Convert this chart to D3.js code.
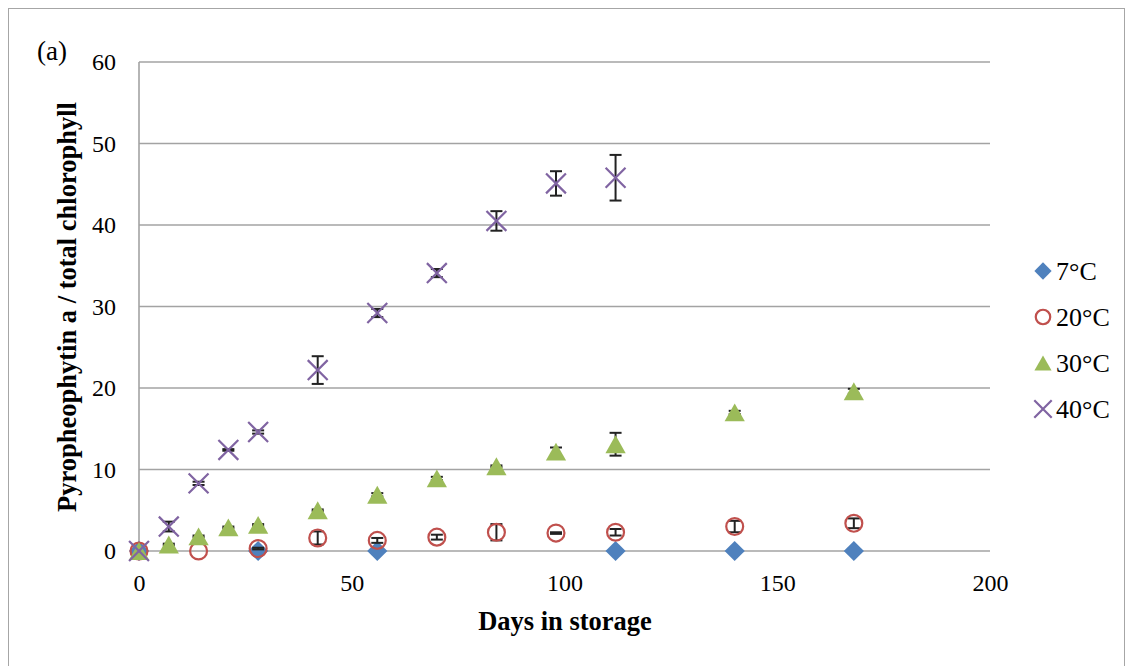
<!DOCTYPE html>
<html>
<head>
<meta charset="utf-8">
<script src="https://cdn.jsdelivr.net/npm/d3@7"></script>
<style>
  body { margin: 0; background: #fff; }
  text { font-family: "Liberation Serif", "Times New Roman", serif; fill: #000; }
</style>
</head>
<body>
<div id="chart"></div>
<script>
// values
const seriesNames = ["7°C", "20°C", "30°C", "40°C"]

const days7 = [0, 28, 56, 112, 140, 168]
const vals7 = [0, 0, 0, 0, 0, 0]
const err7 = [0, 0, 0, 0, 0, 0]

const days20 = [0, 14, 28, 42, 56, 70, 84, 98, 112, 140, 168]
const vals20 = [0, 0, 0.3, 1.6, 1.3, 1.7, 2.3, 2.2, 2.3, 3.0, 3.4]
const err20 = [0, 0, 0.1, 0.8, 0.3, 0.3, 1.0, 0.1, 0.4, 0.7, 0.6]

const days30 = [0, 7, 14, 21, 28, 42, 56, 70, 84, 98, 112, 140, 168]
const vals30 = [0, 0.8, 1.8, 2.9, 3.2, 5.0, 6.9, 8.9, 10.4, 12.2, 13.1, 17.0, 19.6]
const err30 = [0, 0.1, 0.1, 0.1, 0.1, 0.1, 0.2, 0.2, 0.1, 0.5, 1.4, 0.2, 0.3]

const days40 = [0, 7, 14, 21, 28, 42, 56, 70, 84, 98, 112]
const vals40 = [0, 3.0, 8.3, 12.4, 14.6, 22.2, 29.2, 34.1, 40.5, 45.1, 45.8]
const err40 = [0, 0.6, 0.2, 0.1, 0.2, 1.7, 0.5, 0.5, 1.2, 1.5, 2.8]

const xTicks = [0, 50, 100, 150, 200]
const yTicks = [0, 10, 20, 30, 40, 50, 60]

const colors = ["#4f81bd", "#c0504d", "#9bbb59", "#8064a2"]

const width = 1126
const height = 666
const margin = {left: 139, right: 136, top: 62, bottom: 115}

const svg = d3.select("#chart")
  .append("svg")
    .attr("width", width)
    .attr("height", height)

// outer frame
svg.append("rect")
  .attr("x", 8.5).attr("y", 8.5)
  .attr("width", 1116).attr("height", 670)
  .attr("fill", "none")
  .attr("stroke", "#a6a6a6")
  .attr("stroke-width", 1)

const x = d3.scaleLinear()
  .domain([0, 200])
  .range([margin.left, width - margin.right])

const y = d3.scaleLinear()
  .domain([0, 60])
  .range([height - margin.bottom, margin.top])

// grid
svg.append("g")
  .selectAll("line")
  .data(yTicks)
  .join("line")
    .attr("x1", x(0)).attr("x2", x(200))
    .attr("y1", d => y(d)).attr("y2", d => y(d))
    .attr("stroke", "#a3a3a3")
    .attr("stroke-width", 1.6)

svg.append("line")
  .attr("x1", x(0)).attr("x2", x(0))
  .attr("y1", y(0)).attr("y2", y(60))
  .attr("stroke", "#a3a3a3")
  .attr("stroke-width", 1.6)

// axes (labels only)
const yAxis = svg.append("g")
  .attr("transform", `translate(${x(0)},0)`)
  .call(d3.axisLeft(y).tickValues(yTicks).tickSize(0).tickPadding(23))
yAxis.select(".domain").remove()
yAxis.selectAll("text")
  .style("font-size", "24px")
  .style("font-family", "Liberation Serif, serif")

const xAxis = svg.append("g")
  .attr("transform", `translate(0,${y(0)})`)
  .call(d3.axisBottom(x).tickValues(xTicks).tickSize(0).tickPadding(23))
xAxis.select(".domain").remove()
xAxis.selectAll("text")
  .style("font-size", "24px")
  .style("font-family", "Liberation Serif, serif")

svg.append("text")
  .attr("x", 565)
  .attr("y", 630)
  .attr("text-anchor", "middle")
  .style("font-size", "26.5px")
  .style("font-weight", "bold")
  .text("Days in storage")

svg.append("text")
  .attr("transform", `translate(76,307) rotate(-90)`)
  .attr("text-anchor", "middle")
  .style("font-size", "26.5px")
  .style("font-weight", "bold")
  .text("Pyropheophytin a / total chlorophyll")

svg.append("text")
  .attr("x", 37).attr("y", 60)
  .style("font-size", "27px")
  .text("(a)")

// triangle centred on its bounding box, like the spreadsheet marker
const triangleBox = {
  draw(context, size) {
    const w = Math.sqrt(size) * 1.45
    const h = w * 0.88
    context.moveTo(0, -h / 2)
    context.lineTo(w / 2, h / 2)
    context.lineTo(-w / 2, h / 2)
    context.closePath()
  }
}

const symbolTypes = [d3.symbolDiamond2, d3.symbolCircle, triangleBox, d3.symbolTimes]
const symbolSizes = [260, 225, 195, 260]
const legendSizes = [190, 165, 140, 200]

function styleMarker(sel, i) {
  if (i === 0 || i === 2) sel.attr("fill", colors[i]).attr("stroke", "none")
  else sel.attr("fill", "none").attr("stroke", colors[i]).attr("stroke-width", 2.2)
}

const allSeries = [
  {days: days7, vals: vals7, err: err7},
  {days: days20, vals: vals20, err: err20},
  {days: days30, vals: vals30, err: err30},
  {days: days40, vals: vals40, err: err40}
]

allSeries.forEach((s, i) => {
  const pts = s.days.map((d, j) => ({d: d, v: s.vals[j], e: s.err[j]}))
  const g = svg.append("g")

  // error bars first, markers on top
  const eb = g.append("g")
    .selectAll("g")
    .data(pts.filter(p => p.e > 0))
    .join("g")
      .attr("stroke", "#222")
      .attr("stroke-width", 2)
  eb.append("line")
    .attr("x1", p => x(p.d)).attr("x2", p => x(p.d))
    .attr("y1", p => y(p.v - p.e)).attr("y2", p => y(p.v + p.e))
  eb.append("line")
    .attr("x1", p => x(p.d) - 6).attr("x2", p => x(p.d) + 6)
    .attr("y1", p => y(p.v - p.e)).attr("y2", p => y(p.v - p.e))
  eb.append("line")
    .attr("x1", p => x(p.d) - 6).attr("x2", p => x(p.d) + 6)
    .attr("y1", p => y(p.v + p.e)).attr("y2", p => y(p.v + p.e))

  g.append("g")
    .selectAll("path")
    .data(pts)
    .join("path")
      .attr("transform", p => `translate(${x(p.d)},${y(p.v)})`)
      .attr("d", d3.symbol().type(symbolTypes[i]).size(symbolSizes[i]))
      .call(sel => styleMarker(sel, i))
})

// legend
const legend = svg.append("g")
  .selectAll("g")
  .data(seriesNames)
  .join("g")
    .attr("transform", (d, i) => `translate(1043,${271 + i * 46})`)

legend.append("path")
  .attr("d", (d, i) => d3.symbol().type(symbolTypes[i]).size(legendSizes[i])())
  .each(function(d, i) { styleMarker(d3.select(this), i) })

legend.append("text")
  .attr("x", 13)
  .attr("y", 9)
  .style("font-size", "26px")
  .text(d => d)
</script>
</body>
</html>
